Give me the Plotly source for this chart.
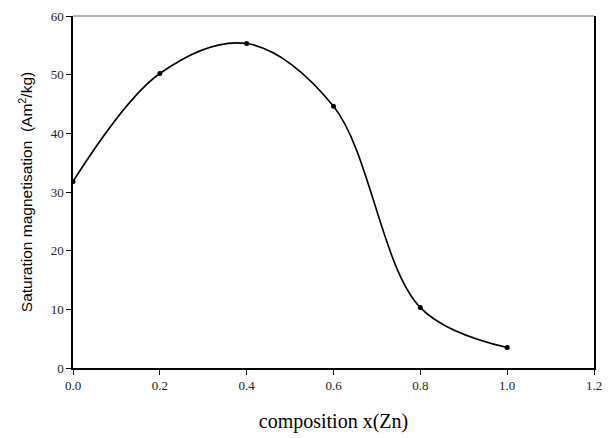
import plotly.graph_objects as go

composition = [0.0, 0.2, 0.4, 0.6, 0.8, 1.0]
magnetisation = [31.8, 50.2, 55.3, 44.6, 10.3, 3.5]

x_ticks = [0.0, 0.2, 0.4, 0.6, 0.8, 1.0, 1.2]
x_tick_labels = ["0.0", "0.2", "0.4", "0.6", "0.8", "1.0", "1.2"]
y_ticks = [0, 10, 20, 30, 40, 50, 60]

fig = go.Figure()
fig.add_trace(go.Scatter(
    x=composition, y=magnetisation,
    mode="lines+markers",
    line=dict(color="black", width=1.6, shape="spline", smoothing=1.0),
    marker=dict(color="black", size=5),
    showlegend=False,
))

fig.update_layout(
    width=611, height=438,
    margin=dict(l=73, r=9, t=14, b=69),
    paper_bgcolor="white", plot_bgcolor="white",
    xaxis=dict(
        range=[0, 1.2], tickvals=x_ticks, ticktext=x_tick_labels,
        showgrid=False, zeroline=False,
        showline=True, linecolor="black", linewidth=1.5,
        ticks="outside", ticklen=5, tickcolor="black",
        ticklabeloverflow="allow",
        tickfont=dict(family="Liberation Serif", size=13, color="#222"),
        title=dict(text="composition x(Zn)", standoff=22,
                   font=dict(family="Liberation Serif", size=20, color="black")),
    ),
    yaxis=dict(
        range=[0, 60], tickvals=y_ticks,
        showgrid=False, zeroline=False,
        showline=True, linecolor="black", linewidth=1.5, mirror=True,
        ticks="outside", ticklen=5, tickcolor="black",
        tickfont=dict(family="Liberation Serif", size=13, color="#222"),
        title=dict(text="Saturation magnetisation  (Am<sup>2</sup>/kg)", standoff=14,
                   font=dict(family="Liberation Sans", size=15.5, color="black")),
    ),
    shapes=[dict(type="line", xref="paper", yref="paper", x0=0, x1=1, y0=1, y1=1,
                 line=dict(color="#999999", width=1.5))],
)

fig.write_html("out.html", config={"displayModeBar": False},
               post_script="document.body.style.margin='0px';document.body.style.overflow='hidden';")
